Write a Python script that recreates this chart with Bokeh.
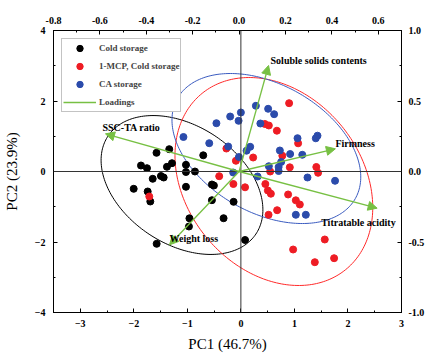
import numpy as np
from bokeh.plotting import figure
from bokeh.models import (Range1d, LinearAxis, SingleIntervalTicker, NumeralTickFormatter,
                          Span, Arrow, NormalHead, ColumnDataSource, LabelSet, Legend, LegendItem)
from bokeh.core.properties import value
from bokeh.embed import file_html
from bokeh.resources import INLINE

# ---------------- data ----------------
cold_pc1 = [-1.338, -1.576, -1.866, -1.754, -1.287, -1.381, -1.026, -0.703, -1.026, -0.858,
            -1.493, -1.442, -1.647, -2.002, -1.741, -1.692, -1.026, -0.541, -0.504, -0.541,
            -0.136, -0.961, -0.970, -0.323, 0.078, -1.573]
cold_pc2 = [0.633, 0.530, 0.170, 0.094, 0.235, 0.133, 0.190, 0.460, -0.014, 0.000,
            -0.128, -0.170, -0.207, -0.491, -0.567, -0.851, -0.434, -0.369, -0.397, -0.814,
            -0.860, -1.328, -1.560, -1.325, -1.943, -2.051]

mcp_pc1 = [0.901, 0.448, 0.522, 0.672, 1.069, -0.271, -0.093, 0.229, 0.774, 0.914,
           1.409, 1.442, 0.547, -0.405, -0.140, 0.078, 0.457, 0.504, 0.560, 0.882,
           1.026, 1.101, 0.677, 0.517, 1.567, 0.976, 1.381, 1.741, -1.711]
mcp_pc2 = [1.938, 1.348, 1.305, 1.157, 0.800, 0.652, 0.304, 0.397, 0.448, 0.119,
           0.128, -0.037, 0.000, -0.133, -0.355, -0.448, -0.355, -0.539, -0.630, -0.652,
           -0.817, -0.936, -1.098, -1.228, -1.929, -2.213, -2.573, -2.460, -0.709]

ca_pc1 = [0.280, 0.509, 0.621, 0.000, -0.200, -0.043, -0.457, 0.364, -1.073, -0.591,
          -0.237, 0.174, 0.106, -0.037, 1.058, 1.431, 1.399, 0.728, 0.920, 1.147,
          0.752, 0.522, 0.705, 0.705, -0.144, 0.312, 1.244, 1.759, 1.026, 1.213]
ca_pc2 = [1.864, 1.779, 1.626, 1.674, 1.560, 1.438, 1.370, 1.362, 0.979, 0.803,
          0.709, 0.701, 0.590, 0.411, 0.945, 1.016, 0.942, 0.596, 0.496, 0.474,
          0.270, 0.150, 0.128, 0.014, -0.028, -0.142, -0.170, -0.264, -1.228, -1.228]

loading_names = ["Soluble solids contents", "Firmness", "Titratable acidity", "SSC-TA ratio", "Weight loss"]
loading_pc1 = [0.127, 0.415, 0.595, -0.576, -0.300]
loading_pc2 = [0.752, 0.161, -0.260, 0.267, -0.520]

# confidence ellipses: centre, half extents along PC1/PC2, correlation
ell_names = ["Cold storage", "1-MCP, Cold storage", "CA storage"]
ell_cx = [-1.100, 0.616, 0.476]
ell_cy = [-0.383, -0.284, 0.652]
ell_hx = [1.511, 1.847, 1.763]
ell_hy = [1.970, 2.950, 2.128]
ell_r = [-0.357, -0.250, -0.380]

# ---------------- styling ----------------
BLACK, RED, BLUE, GREEN = "#000000", "#ee1c24", "#2b4bab", "#77c043"
ELL_COLORS = ["#000000", "#ff2a2a", "#3a5bc0"]
FONT = "Liberation Serif"
label_dx = [2, 0, -56, -3, 0]
label_dy = [5, 5, -14, 6, 6]

p = figure(frame_width=348, frame_height=282, output_backend="svg", toolbar_location=None,
           x_range=Range1d(-3.5, 3.0), y_range=Range1d(-4.0, 4.0),
           x_axis_location=None, y_axis_location=None,
           min_border_left=45, min_border_right=30, min_border_top=30, min_border_bottom=40)
p.extra_x_ranges = {"load_x": Range1d(-0.8, 0.7)}
p.extra_y_ranges = {"load_y": Range1d(-1.0, 1.0)}
p.xgrid.visible = False
p.ygrid.visible = False
p.outline_line_color = "black"
p.background_fill_color = "white"


def style_axis(ax, label_standoff=8):
    ax.axis_line_color = "black"
    ax.axis_line_width = 1
    ax.major_tick_in = 4
    ax.major_tick_out = 0
    ax.minor_tick_in = 2
    ax.minor_tick_out = 0
    ax.major_tick_line_color = "black"
    ax.minor_tick_line_color = "black"
    ax.major_label_text_font = FONT
    ax.major_label_text_font_style = "bold"
    ax.major_label_text_font_size = "10px"
    ax.major_label_text_color = "black"
    ax.major_label_standoff = label_standoff
    ax.axis_label_text_font = FONT
    ax.axis_label_text_font_style = "normal"
    ax.axis_label_text_font_size = "15px"
    ax.axis_label_text_color = "black"


xb = LinearAxis(ticker=SingleIntervalTicker(interval=1, num_minor_ticks=2), axis_label="PC1 (46.7%)")
style_axis(xb, 7)
xb.axis_label_standoff = 6
p.add_layout(xb, "below")

yl = LinearAxis(ticker=SingleIntervalTicker(interval=2, num_minor_ticks=2), axis_label="PC2 (23.9%)")
style_axis(yl, 8)
yl.axis_label_standoff = 12
p.add_layout(yl, "left")

xt = LinearAxis(x_range_name="load_x", ticker=SingleIntervalTicker(interval=0.2, num_minor_ticks=2),
                formatter=NumeralTickFormatter(format="0.0"))
style_axis(xt, 7)
p.add_layout(xt, "above")

yr = LinearAxis(y_range_name="load_y", ticker=SingleIntervalTicker(interval=0.5, num_minor_ticks=2),
                formatter=NumeralTickFormatter(format="0.0"))
style_axis(yr, 7)
p.add_layout(yr, "right")

p.add_layout(Span(location=0, dimension="height", line_color="#333333", line_width=1))
p.add_layout(Span(location=0, dimension="width", line_color="#333333", line_width=1))

# ellipses
t = np.linspace(0, 2 * np.pi, 241)
for cx, cy, hx, hy, r, col in zip(ell_cx, ell_cy, ell_hx, ell_hy, ell_r, ELL_COLORS):
    ex = cx + hx * np.cos(t)
    ey = cy + hy * (r * np.cos(t) + np.sqrt(1 - r * r) * np.sin(t))
    p.line(ex, ey, line_color=col, line_width=1)

r_cold = p.scatter(cold_pc1, cold_pc2, size=7, fill_color=BLACK, line_color=BLACK)
r_mcp = p.scatter(mcp_pc1, mcp_pc2, size=7, fill_color=RED, line_color=RED)
r_ca = p.scatter(ca_pc1, ca_pc2, size=7, fill_color=BLUE, line_color=BLUE)

# loadings
lsrc = ColumnDataSource(dict(x0=[0.0] * len(loading_pc1), y0=[0.0] * len(loading_pc2),
                             x=loading_pc1, y=loading_pc2, name=loading_names,
                             dx=label_dx, dy=label_dy))
p.add_layout(Arrow(end=NormalHead(size=9, fill_color=GREEN, line_color=GREEN),
                   x_start="x0", y_start="y0", x_end="x", y_end="y", source=lsrc,
                   x_range_name="load_x", y_range_name="load_y",
                   line_color=GREEN, line_width=1.3))
p.add_layout(LabelSet(x="x", y="y", text="name", source=lsrc, x_offset="dx", y_offset="dy",
                      x_range_name="load_x", y_range_name="load_y",
                      text_font=value(FONT), text_font_style="bold", text_font_size="10px",
                      text_baseline="middle", text_align="left", text_color="black"))

# legend (proxy renderer with no visible data for the loadings entry)
leg_line = p.line([np.nan, np.nan], [np.nan, np.nan], line_color=GREEN, line_width=1.3)
legend = Legend(items=[LegendItem(label="Cold storage", renderers=[r_cold]),
                       LegendItem(label="1-MCP, Cold storage", renderers=[r_mcp]),
                       LegendItem(label="CA storage", renderers=[r_ca]),
                       LegendItem(label="Loadings", renderers=[leg_line])],
                location="top_left", margin=8, padding=1, spacing=2,
                glyph_width=33, glyph_height=16, label_height=16, label_standoff=3,
                label_text_font=FONT, label_text_font_style="bold", label_text_font_size="9px",
                border_line_color="#888888", border_line_width=1,
                background_fill_color="white", background_fill_alpha=1)
p.add_layout(legend)

open("out.html", "w").write(file_html(p, INLINE))
